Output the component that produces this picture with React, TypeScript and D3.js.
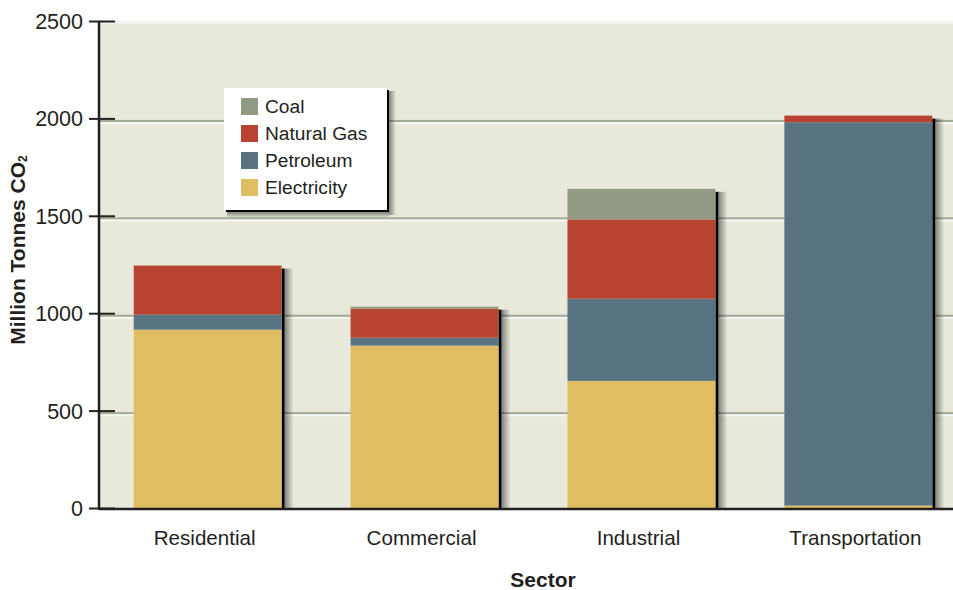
import React from "react";
import * as d3 from "d3";

const sectors = ["Residential", "Commercial", "Industrial", "Transportation"];
const seriesNames = ["Electricity", "Petroleum", "Natural Gas", "Coal"];
const electricity = [918, 836, 655, 15];
const petroleum = [78, 41, 422, 1968];
const naturalGas = [251, 149, 407, 34];
const coal = [0, 10, 157, 0];
const yTicks = [0, 500, 1000, 1500, 2000, 2500];
const legendOrder = ["Coal", "Natural Gas", "Petroleum", "Electricity"];
const colors: Record<string, string> = {
  Coal: "#939a84",
  "Natural Gas": "#b84330",
  Petroleum: "#587482",
  Electricity: "#dfbd62",
};

const W = 953;
const H = 590;
const FONT = "'Liberation Sans', Arial, Helvetica, sans-serif";

export default function App() {
  const rows = sectors.map((s, i) => ({
    sector: s,
    Electricity: electricity[i],
    Petroleum: petroleum[i],
    "Natural Gas": naturalGas[i],
    Coal: coal[i],
  }));
  const stack = d3.stack<any>().keys(seriesNames);
  const layers = stack(rows);

  const y = d3.scaleLinear().domain([0, 2500]).range([508.5, 21.5]);
  const x = d3
    .scaleBand<string>()
    .domain(sectors)
    .range([99, 967])
    .paddingInner(0.318)
    .paddingOuter(0.16);
  const bw = x.bandwidth();
  const totals = rows.map((r) => seriesNames.reduce((a, k) => a + (r as any)[k], 0));

  const axisX = 99;
  const plotRight = W;

  return (
    <svg width={W} height={H} style={{ position: "absolute", left: 0, top: 0 }}>
      <defs>
        <linearGradient id="shadowR" x1="0" x2="1" y1="0" y2="0">
          <stop offset="0" stopColor="#000" stopOpacity={0.45} />
          <stop offset="1" stopColor="#000" stopOpacity={0} />
        </linearGradient>
        <linearGradient id="shadowB" x1="0" x2="0" y1="0" y2="1">
          <stop offset="0" stopColor="#000" stopOpacity={0.45} />
          <stop offset="1" stopColor="#000" stopOpacity={0} />
        </linearGradient>
      </defs>
      <rect x={0} y={0} width={W} height={H} fill="#fff" />
      {/* plot background */}
      <rect x={axisX} y={y(2500)} width={plotRight - axisX} height={y(0) - y(2500)} fill="#e8e9db" />
      <rect x={axisX} y={y(2500) - 0.5} width={plotRight - axisX} height={3} fill="#f3f3ee" />
      {/* gridlines */}
      {yTicks
        .filter((t) => t > 0 && t < 2500)
        .map((t) => (
          <g key={t}>
            <rect x={axisX} y={y(t) + 1} width={plotRight - axisX} height={2.2} fill="#a6ab99" />
            <rect x={axisX} y={y(t) + 3.2} width={plotRight - axisX} height={2} fill="#f7f7f2" />
          </g>
        ))}
      {/* bar shadows */}
      {rows.map((r, i) => {
        const x1 = (x(r.sector) as number) + bw;
        const top = y(totals[i]);
        return (
          <g key={"sh" + i}>
            <rect x={x1 + 3} y={top + 3} width={9} height={y(0) - top - 3} fill="url(#shadowR)" />
            <rect x={x1} y={top + 3} width={3} height={y(0) - top - 3} fill="#000" />
          </g>
        );
      })}
      {/* bars */}
      {layers.map((layer) => (
        <g key={layer.key} fill={colors[layer.key]}>
          {layer.map((d, i) =>
            d[1] - d[0] > 0 ? (
              <rect
                key={i}
                x={x(sectors[i])}
                y={y(d[1])}
                width={bw}
                height={y(d[0]) - y(d[1])}
              />
            ) : null
          )}
        </g>
      ))}
      {/* axes */}
      <line x1={axisX} x2={plotRight} y1={y(0) + 0.5} y2={y(0) + 0.5} stroke="#231f20" strokeWidth={2.5} />
      <line x1={axisX} x2={axisX} y1={y(2500)} y2={y(0) + 1.5} stroke="#231f20" strokeWidth={2.5} />
      {yTicks.map((t) => (
        <g key={"t" + t}>
          <line x1={89} x2={115} y1={y(t)} y2={y(t)} stroke="#231f20" strokeWidth={2} />
          <text
            x={83}
            y={y(t)}
            dy="0.35em"
            textAnchor="end"
            fontFamily={FONT}
            fontSize={21.5}
            fill="#231f20"
          >
            {t}
          </text>
        </g>
      ))}
      {sectors.map((s) => (
        <text
          key={s}
          x={(x(s) as number) + bw / 2 - 3}
          y={545}
          textAnchor="middle"
          fontFamily={FONT}
          fontSize={20.6}
          fill="#231f20"
        >
          {s}
        </text>
      ))}
      <text x={543} y={587} textAnchor="middle" fontFamily={FONT} fontSize={21} fontWeight="bold" fill="#231f20">
        Sector
      </text>
      <text
        transform="translate(25,250) rotate(-90)"
        textAnchor="middle"
        fontFamily={FONT}
        fontSize={21}
        fontWeight="bold"
        fill="#231f20"
      >
        Million Tonnes CO<tspan fontSize={12} dy="2">2</tspan>
      </text>
      {/* legend */}
      <g>
        <rect x={389} y={91} width={7} height={124} fill="url(#shadowR)" />
        <rect x={227} y={212} width={162} height={6} fill="url(#shadowB)" />
        <rect x={226} y={90} width={163} height={122} fill="#000" />
        <rect x={224} y={88} width={163} height={122} fill="#fff" />
        {legendOrder.map((k, i) => (
          <g key={k}>
            <rect x={241} y={98 + i * 27} width={17} height={17} fill={colors[k]} />
            <text x={265} y={106.5 + i * 27} dy="0.35em" fontFamily={FONT} fontSize={19.2} fill="#231f20">
              {k}
            </text>
          </g>
        ))}
      </g>
    </svg>
  );
}
